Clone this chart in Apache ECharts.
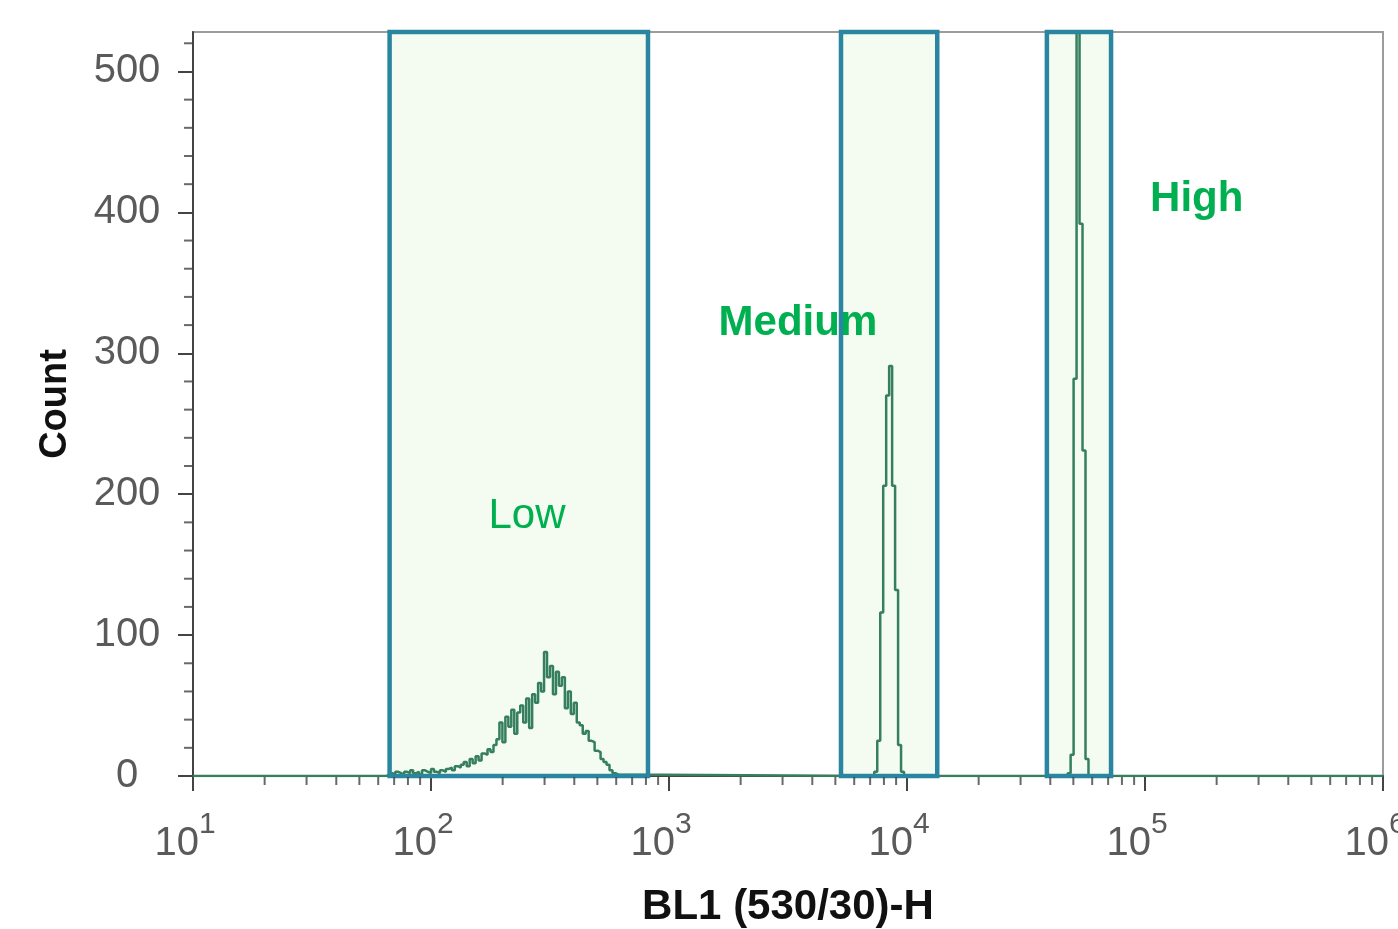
<!DOCTYPE html>
<html>
<head>
<meta charset="utf-8">
<script src="https://cdn.jsdelivr.net/npm/echarts@6/dist/echarts.min.js"></script>
<style>
html,body{margin:0;padding:0;background:#ffffff;}
#chart{width:1398px;height:929px;}
</style>
</head>
<body>
<div id="chart"></div>
<script>
// ---- axis ranges and ticks ----
const xMin = 10;
const xMax = 1000000;
const yMin = 0;
const yMax = 528;
const yTickValues = [0, 100, 200, 300, 400, 500];
const yMinorTickValues = [20, 40, 60, 80, 120, 140, 160, 180, 220, 240, 260, 280,
  320, 340, 360, 380, 420, 440, 460, 480, 520];
const xMinorTickValues = [20, 30, 40, 50, 60, 70, 80, 90,
  200, 300, 400, 500, 600, 700, 800, 900,
  2000, 3000, 4000, 5000, 6000, 7000, 8000, 9000,
  20000, 30000, 40000, 50000, 60000, 70000, 80000, 90000,
  200000, 300000, 400000, 500000, 600000, 700000, 800000, 900000];

// ---- histogram (log-spaced bins, width in decades) ----
const binWidthDecades = 0.0125;
const lowStartBin = 64;
const lowCounts = [0, 1, 2, 1, 3, 2, 1, 3, 2, 4, 2, 3, 1, 4, 3, 2, 5, 3, 2, 4,
  3, 5, 6, 4, 7, 6, 8, 10, 7, 12, 9, 14, 11, 16, 15, 19, 17, 22, 26, 38,
  24, 42, 35, 47, 30, 45, 50, 38, 55, 34, 58, 52, 66, 60, 88, 70, 78, 58, 74, 64,
  70, 48, 60, 44, 52, 38, 36, 30, 32, 25, 24, 18, 17, 12, 10, 8, 4, 2, 1];
const mediumStartBin = 229;
const mediumCounts = [3, 25, 116, 206, 270, 291, 206, 132, 22, 3];
const highStartBin = 294;
const highCounts = [2, 15, 282, 620, 392, 231, 12];

// ---- gates ----
const gateNames = ['Low', 'Medium', 'High'];
const gateStart = [67, 5280, 38700];
const gateEnd = [816, 13400, 72000];
const gateLabelX = [253, 3480, 165000];
const gateLabelY = [184, 321, 409];
const gateLabelWeight = ['normal', 'bold', 'bold'];

// ---- titles ----
const xTitle = 'BL1 (530/30)-H';
const yTitle = 'Count';

function binEdge(k) { return xMin * Math.pow(10, k * binWidthDecades); }
const histData = [[xMin, 0]];
function addPeak(start, counts) {
  counts.forEach(function (c, i) { histData.push([binEdge(start + i), c]); });
  histData.push([binEdge(start + counts.length), 0]);
}
addPeak(lowStartBin, lowCounts);
addPeak(mediumStartBin, mediumCounts);
addPeak(highStartBin, highCounts);
histData.push([xMax, 0]);

const gateData = gateStart.map(function (s, i) { return [s, gateEnd[i]]; });
const labelData = gateNames.map(function (n, i) {
  return { name: n, value: [gateLabelX[i], gateLabelY[i]],
    label: { fontWeight: gateLabelWeight[i] } };
});

const tickColor = '#444444';
const labelColor = '#5a5a5a';
const fontFam = '"Liberation Sans", Arial, sans-serif';

function gateRender(fillMode) {
  return function (params, api) {
    const p0 = api.coord([api.value(0), yMax]);
    const p1 = api.coord([api.value(1), yMin]);
    return {
      type: 'rect',
      shape: { x: p0[0], y: p0[1], width: p1[0] - p0[0], height: p1[1] - p0[1] },
      style: fillMode
        ? { fill: '#f4fcf2', stroke: null }
        : { fill: null, stroke: '#2a86a0', lineWidth: 4.5 }
    };
  };
}

const chart = echarts.init(document.getElementById('chart'), null, { renderer: 'canvas' });
chart.setOption({
  animation: false,
  backgroundColor: '#ffffff',
  grid: { left: 193, right: 15, top: 32, bottom: 153, show: true,
    outerBoundsMode: 'none', containLabel: false,
    borderColor: '#9c9c9c', borderWidth: 2, backgroundColor: '#ffffff' },
  xAxis: {
    type: 'log', logBase: 10, min: xMin, max: xMax,
    name: xTitle, nameLocation: 'middle', nameGap: 110,
    nameTextStyle: { fontFamily: fontFam, fontWeight: 'bold', fontSize: 42, color: '#111111' },
    axisLine: { show: true, lineStyle: { color: tickColor, width: 2 } },
    axisTick: { show: true, length: 15, lineStyle: { color: tickColor, width: 2 } },
    splitLine: { show: false },
    axisLabel: {
      margin: 34,
      padding: [0, 16, 0, 0],
      formatter: function (v) {
        const e = Math.round(Math.log10(v));
        return '{b|10}{s|' + e + '}';
      },
      rich: {
        b: { fontFamily: fontFam, fontSize: 40, color: labelColor, lineHeight: 54, verticalAlign: 'bottom' },
        s: { fontFamily: fontFam, fontSize: 30, color: labelColor, lineHeight: 24, verticalAlign: 'top' }
      }
    }
  },
  yAxis: {
    type: 'value', min: yMin, max: yMax,
    name: yTitle, nameLocation: 'middle', nameGap: 118,
    nameTextStyle: { fontFamily: fontFam, fontWeight: 'bold', fontSize: 38, color: '#111111' },
    axisLine: { show: true, lineStyle: { color: tickColor, width: 2 } },
    axisTick: { show: true, length: 15, customValues: yTickValues,
      lineStyle: { color: tickColor, width: 2 } },
    axisLabel: { customValues: yTickValues, margin: 66, align: 'center', fontFamily: fontFam,
      fontSize: 40, color: labelColor },
    splitLine: { show: false }
  },
  series: [
    { type: 'custom', name: 'gateFill', z: 1, data: gateData,
      renderItem: gateRender(true), silent: true },
    { type: 'line', name: 'histogram', z: 2, data: histData, step: 'end',
      symbol: 'none', clip: true,
      lineStyle: { color: '#367f5d', width: 2.5 } },
    { type: 'scatter', name: 'gateLabels', z: 3, data: labelData,
      symbolSize: 1, itemStyle: { color: 'rgba(0,0,0,0)' }, silent: true,
      label: { show: true, position: 'inside', formatter: '{b}',
        fontFamily: fontFam, fontSize: 42, color: '#00b050', opacity: 1,
        textBorderWidth: 0, textBorderColor: 'transparent',
        textShadowBlur: 0, textShadowColor: 'transparent' } },
    { type: 'custom', name: 'gateBorder', z: 4, data: gateData,
      renderItem: gateRender(false), silent: true },
    { type: 'scatter', name: 'xMinorTicks', z: 5, clip: false, silent: true,
      data: xMinorTickValues.map(function (v) { return [v, 0]; }),
      symbol: 'rect', symbolSize: [2, 8], symbolOffset: [0, 5],
      itemStyle: { color: tickColor } },
    { type: 'scatter', name: 'yMinorTicks', z: 5, clip: false, silent: true,
      data: yMinorTickValues.map(function (v) { return [xMin, v]; }),
      symbol: 'rect', symbolSize: [8, 2], symbolOffset: [-5, 0],
      itemStyle: { color: tickColor } }
  ]
});
</script>
</body>
</html>
